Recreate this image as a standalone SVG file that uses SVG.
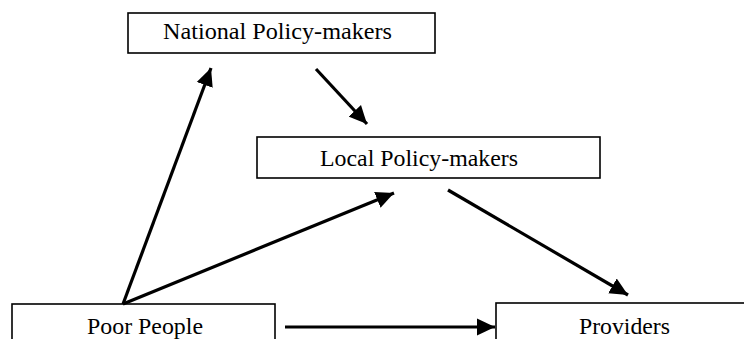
<svg xmlns="http://www.w3.org/2000/svg" width="744" height="339" viewBox="0 0 744 339">
<style>
.box{fill:#fff;stroke:#000;stroke-width:1.6}
.lbl{font-family:"Liberation Serif","Times New Roman",serif;font-size:23.5px;fill:#000}
.conn{stroke:#000;stroke-width:3.2;fill:none;marker-end:url(#ah)}
</style>
<defs>
<marker id="ah" markerUnits="userSpaceOnUse" markerWidth="20" markerHeight="18" refX="18" refY="9" orient="auto">
<path d="M0,0.5 L18,9 L0,17.5 Z" fill="#000"/>
</marker>
</defs>
<rect width="744" height="339" fill="#fff"/>
<g id="national">
<rect class="box" x="128" y="13" width="307" height="40"/>
<text class="lbl" x="163" y="39" textLength="229" lengthAdjust="spacingAndGlyphs">National Policy-makers</text>
</g>
<g id="local">
<rect class="box" x="257" y="137" width="343" height="41"/>
<text class="lbl" x="320" y="166" textLength="198" lengthAdjust="spacingAndGlyphs">Local Policy-makers</text>
</g>
<g id="poor">
<rect class="box" x="12" y="304" width="263" height="50"/>
<text class="lbl" x="87" y="334" textLength="116" lengthAdjust="spacingAndGlyphs">Poor People</text>
</g>
<g id="providers">
<rect class="box" x="496" y="303" width="260" height="50"/>
<text class="lbl" x="579" y="334" textLength="91" lengthAdjust="spacingAndGlyphs">Providers</text>
</g>
<g id="connectors">
<line class="conn" x1="316" y1="69" x2="367" y2="124"/>
<line class="conn" x1="448" y1="190" x2="628" y2="295"/>
<line class="conn" x1="123" y1="304" x2="211" y2="68"/>
<line class="conn" x1="123" y1="304" x2="394" y2="193"/>
<line class="conn" x1="285" y1="327" x2="495" y2="327"/>
</g>
</svg>
